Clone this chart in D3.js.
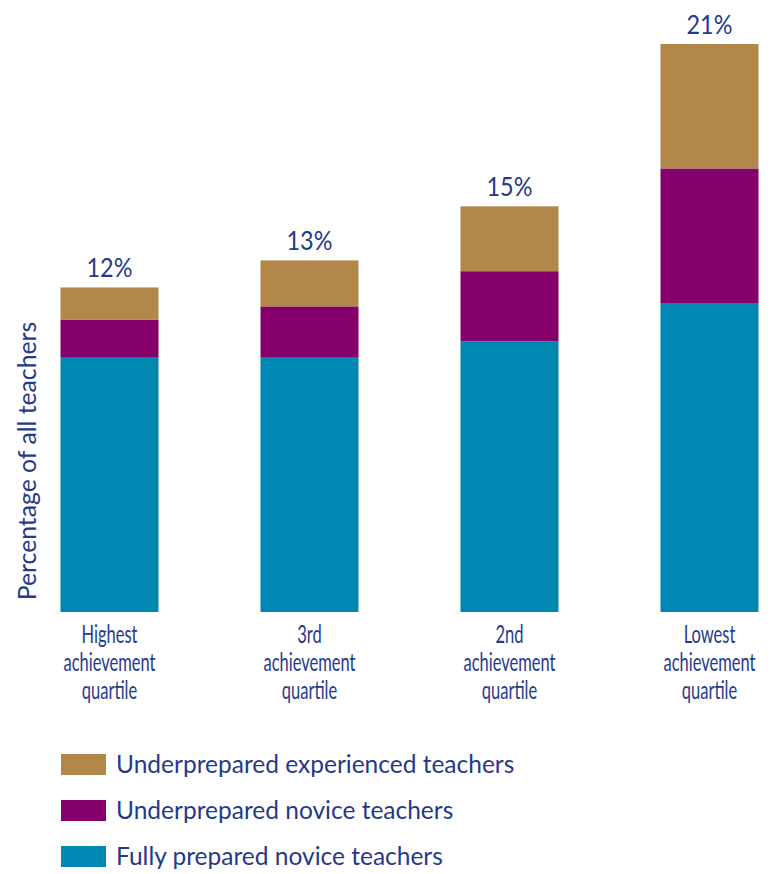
<!DOCTYPE html>
<html>
<head>
<meta charset="utf-8">
<script src="https://cdn.jsdelivr.net/npm/d3@7"></script>
<style>
  html, body { margin: 0; padding: 0; background: #ffffff; }
  svg { display: block; }
  text { font-family: Lato, "Open Sans", sans-serif; fill: #25398a; }
</style>
</head>
<body>
<svg id="chart" width="784" height="874"></svg>
<script>
// Share of teachers by school achievement quartile (percent)
const categories = [
  ["Highest", "achievement", "quartile"],
  ["3rd", "achievement", "quartile"],
  ["2nd", "achievement", "quartile"],
  ["Lowest", "achievement", "quartile"]
];
const seriesNames = [
  "Fully prepared novice teachers",
  "Underprepared novice teachers",
  "Underprepared experienced teachers"
];
const fullyPrepared = [9.4, 9.4, 10.0, 11.4];
const underNovice = [1.4, 1.9, 2.6, 5.0];
const underExperienced = [1.2, 1.7, 2.4, 4.6];
const totalLabels = ["12%", "13%", "15%", "21%"];
const colors = ["#0088b3", "#85006b", "#b2884a"];

const svg = d3.select("#chart");
const keys = categories.map(c => c.join(" "));

const rows = keys.map((k, i) => ({
  key: k,
  s0: fullyPrepared[i],
  s1: underNovice[i],
  s2: underExperienced[i]
}));
const stack = d3.stack().keys(["s0", "s1", "s2"])(rows);

const x = d3.scaleBand()
  .domain(keys)
  .range([9.5, 809.5])
  .paddingInner(0.51)
  .paddingOuter(0.255);

const y = d3.scaleLinear().domain([0, 21]).range([612, 44]);

// Stacked bars
svg.append("g").selectAll("g")
  .data(stack)
  .join("g")
  .attr("fill", (d, i) => colors[i])
  .selectAll("rect")
  .data(d => d)
  .join("rect")
  .attr("x", d => x(d.data.key))
  .attr("width", x.bandwidth())
  .attr("y", d => y(d[1]))
  .attr("height", d => y(d[0]) - y(d[1]));

// Totals above each bar
const totals = rows.map(r => r.s0 + r.s1 + r.s2);
svg.append("g").selectAll("text")
  .data(totals)
  .join("text")
  .attr("text-anchor", "middle")
  .attr("font-size", 26)
  .attr("transform", (d, i) =>
    `translate(${x(keys[i]) + x.bandwidth() / 2},${y(d) - 10}) scale(0.9,1)`)
  .text((d, i) => totalLabels[i]);

// Category labels under the bars
const catG = svg.append("g").selectAll("g")
  .data(categories)
  .join("g")
  .attr("transform", (d, i) =>
    `translate(${x(keys[i]) + x.bandwidth() / 2},643) scale(0.66,1)`);
catG.selectAll("text")
  .data(d => d)
  .join("text")
  .attr("text-anchor", "middle")
  .attr("font-size", 25)
  .attr("y", (d, j) => j * 28)
  .text(d => d);

// Vertical axis title
svg.append("text")
  .attr("text-anchor", "middle")
  .attr("font-size", 25)
  .attr("transform", "translate(36,461) rotate(-90) scale(0.99,1)")
  .text("Percentage of all teachers");

// Legend (top entry is the top segment)
const legendOrder = [2, 1, 0];
const leg = svg.append("g").selectAll("g")
  .data(legendOrder)
  .join("g")
  .attr("transform", (d, i) => `translate(61,${754 + i * 46})`);
leg.append("rect")
  .attr("width", 45)
  .attr("height", 21)
  .attr("fill", d => colors[d]);
leg.append("text")
  .attr("x", 55)
  .attr("y", 19)
  .attr("font-size", 24.5)
  .text(d => seriesNames[d]);
</script>
</body>
</html>
